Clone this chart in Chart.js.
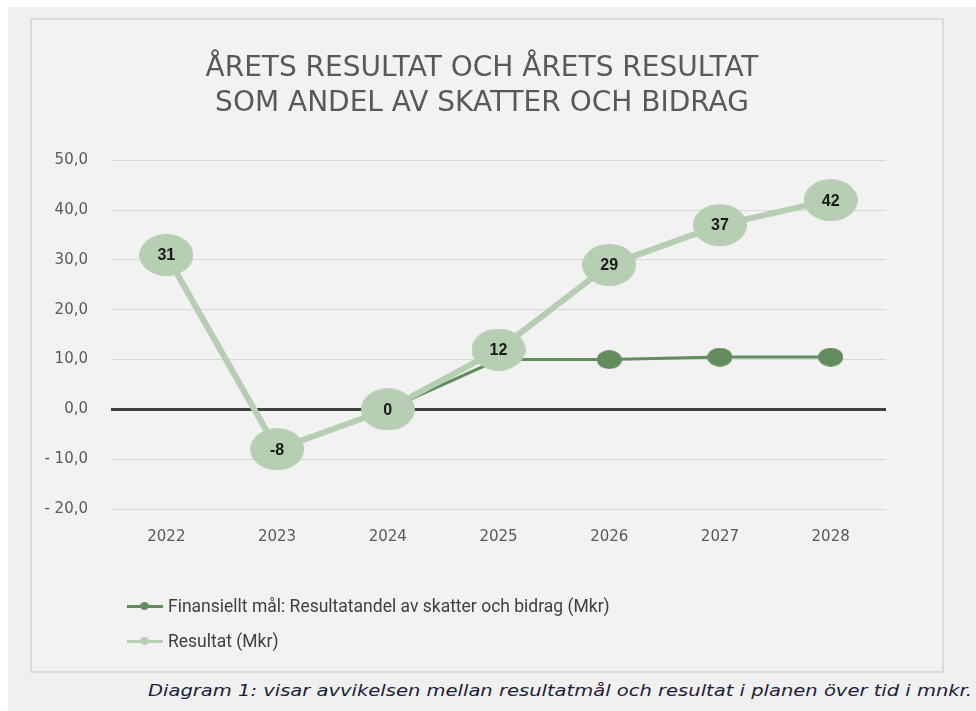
<!DOCTYPE html>
<html lang="sv">
<head>
<meta charset="utf-8">
<script src="https://cdn.jsdelivr.net/npm/chart.js@4/dist/chart.umd.min.js"></script>
<style>
  html, body { margin: 0; padding: 0; background: #ffffff; }
  body { width: 976px; height: 711px; position: relative; overflow: hidden; }
  #page { position: absolute; left: 8px; top: 7px; right: 0; bottom: 0; background: #f0f0f0; }
  #box {
    position: absolute; left: 30px; top: 18px; width: 910px; height: 651px;
    background: #f2f2f2; border: 2px solid #dcdcdc;
  }
  #chart-canvas { position: absolute; left: 0; top: 0; }
  #legend { position: absolute; left: 95px; top: 568px; font-family: Roboto, sans-serif; font-size: 17.5px; color: #404040; }
  .legend-row { display: flex; align-items: center; height: 35px; }
  .legend-mark { position: relative; width: 36px; height: 12px; margin-right: 5px; }
  .legend-mark .ln { position: absolute; left: 0; right: 0; top: 5px; height: 3px; }
  .legend-mark .dot { position: absolute; left: 13px; top: 2px; width: 9px; height: 8px; border-radius: 50%; }
  #caption {
    position: absolute; left: 148px; top: 681px; white-space: nowrap;
    font-family: "DejaVu Sans", sans-serif; font-style: italic; font-size: 16px; color: #1c1c3c;
    transform: scaleX(1.22); transform-origin: 0 0;
  }
</style>
</head>
<body>
<div id="page"></div>
<div id="box">
  <canvas id="chart-canvas" width="910" height="651"></canvas>
  <div id="legend"></div>
</div>
<div id="caption">Diagram 1: visar avvikelsen mellan resultatmål och resultat i planen över tid i mnkr.</div>

<script>
// Data
const YEARS = ['2022', '2023', '2024', '2025', '2026', '2027', '2028'];
const MAL_VALUES = [null, null, 0, 10, 10, 10.5, 10.5];
const RESULTAT_VALUES = [31, -8, 0, 12, 29, 37, 42];
const SERIES_LABELS = ['Finansiellt mål: Resultatandel av skatter och bidrag (Mkr)', 'Resultat (Mkr)'];
const TITLE_LINES = ['ÅRETS RESULTAT OCH ÅRETS RESULTAT', 'SOM ANDEL AV SKATTER OCH BIDRAG'];

const DARK_GREEN = '#628c5e';
const LIGHT_GREEN = '#b6ceb2';

/** Format tick like "10,0" or "- 10,0" */
function formatTick(v) {
  const s = Math.abs(v).toFixed(1).replace('.', ',');
  return v < 0 ? '- ' + s : s;
}

/** Ellipse marker as a small canvas, used as pointStyle. */
function ellipseMarker(w, h, color) {
  const c = document.createElement('canvas');
  c.width = w;
  c.height = h;
  const g = c.getContext('2d');
  g.fillStyle = color;
  g.beginPath();
  g.ellipse(w / 2, h / 2, w / 2, h / 2, 0, 0, Math.PI * 2);
  g.fill();
  return c;
}

/** Draw the value inside each Resultat bubble. */
const valueLabels = {
  id: 'valueLabels',
  afterDatasetsDraw(chart) {
    const idx = chart.data.datasets.findIndex(d => d.label === SERIES_LABELS[1]);
    const meta = chart.getDatasetMeta(idx);
    const ctx = chart.ctx;
    ctx.save();
    ctx.font = 'bold 16px "Liberation Sans", Arial, sans-serif';
    ctx.fillStyle = '#1a1a1a';
    ctx.textAlign = 'center';
    ctx.textBaseline = 'middle';
    meta.data.forEach((pt, i) => {
      ctx.fillText(String(RESULTAT_VALUES[i]), pt.x, pt.y + 1);
    });
    ctx.restore();
  },
};

const tickFont = { family: '"DejaVu Sans", sans-serif', size: 15 };

new Chart(document.getElementById('chart-canvas'), {
  type: 'line',
  data: {
    labels: YEARS,
    datasets: [
      {
        label: SERIES_LABELS[0],
        data: MAL_VALUES,
        borderColor: DARK_GREEN,
        backgroundColor: DARK_GREEN,
        borderWidth: 3,
        pointStyle: ellipseMarker(25, 19, DARK_GREEN),
        pointRadius: 10,
        order: 2,
      },
      {
        label: SERIES_LABELS[1],
        data: RESULTAT_VALUES,
        borderColor: LIGHT_GREEN,
        backgroundColor: LIGHT_GREEN,
        borderWidth: 6,
        pointStyle: ellipseMarker(54, 42, LIGHT_GREEN),
        pointRadius: 25,
        order: 1,
      },
    ],
  },
  options: {
    responsive: false,
    animation: false,
    layout: { padding: { left: 0, right: 10, bottom: 0 } },
    plugins: {
      legend: { display: false },
      tooltip: { enabled: false },
      title: {
        display: true,
        text: TITLE_LINES,
        color: '#595959',
        font: { family: '"DejaVu Sans", sans-serif', size: 28, weight: 'normal', lineHeight: 1.22 },
        padding: { top: 32, bottom: 40 },
      },
    },
    scales: {
      x: {
        offset: true,
        grid: { display: false },
        border: { display: false },
        ticks: { color: '#595959', font: tickFont, padding: 11 },
        afterFit(scale) { scale.height = 162; },
      },
      y: {
        min: -20,
        max: 50,
        border: { display: false },
        grid: {
          drawTicks: false,
          color: ctx => (ctx.tick && ctx.tick.value === 0 ? '#404040' : '#d9d9d9'),
          lineWidth: ctx => (ctx.tick && ctx.tick.value === 0 ? 3 : 1),
        },
        ticks: {
          stepSize: 10,
          color: '#595959',
          font: tickFont,
          padding: 23,
          callback: v => formatTick(v),
        },
        afterFit(scale) { scale.width = 79; },
      },
      // empty right axis that only reserves room on the right side
      yRight: {
        position: 'right',
        min: -20,
        max: 50,
        grid: { display: false },
        border: { display: false },
        ticks: { display: false },
        afterFit(scale) { scale.width = 46; },
      },
    },
  },
  plugins: [valueLabels],
});

// HTML legend built from the series
const legendColors = [DARK_GREEN, LIGHT_GREEN];
const legend = document.getElementById('legend');
SERIES_LABELS.forEach((label, i) => {
  const row = document.createElement('div');
  row.className = 'legend-row';
  row.innerHTML = `<span class="legend-mark"><span class="ln" style="background:${legendColors[i]}"></span>` +
    `<span class="dot" style="background:${legendColors[i]}"></span></span><span>${label}</span>`;
  legend.appendChild(row);
});
</script>
</body>
</html>
